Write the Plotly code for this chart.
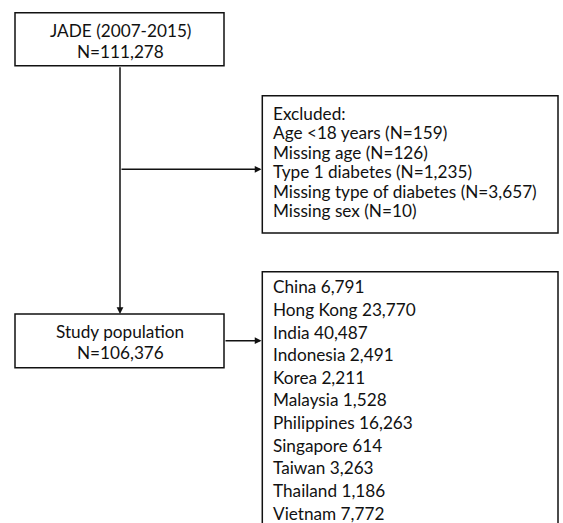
import plotly.graph_objects as go

# ---- data ----
top_lines = ["JADE (2007-2015)", "N=111,278"]
study_lines = ["Study population", "N=106,376"]
excluded_header = "Excluded:"
excluded_labels = ["Age <18 years", "Missing age", "Type 1 diabetes",
                   "Missing type of diabetes", "Missing sex"]
excluded_counts = ["159", "126", "1,235", "3,657", "10"]
countries = ["China", "Hong Kong", "India", "Indonesia", "Korea", "Malaysia",
             "Philippines", "Singapore", "Taiwan", "Thailand", "Vietnam"]
country_counts = ["6,791", "23,770", "40,487", "2,491", "2,211", "1,528",
                  "16,263", "614", "3,263", "1,186", "7,772"]

W, H = 563, 523
FONT = "Lato"
FS = 17.2
TXT = "#111111"
LINE = "#111111"

fig = go.Figure()
shapes = []
ann = []

def box(x0, y0, x1, y1):
    shapes.append(dict(type="rect", xref="x", yref="y", x0=x0, y0=y0, x1=x1, y1=y1,
                       line=dict(color=LINE, width=1.5), fillcolor="white", layer="below"))

def text(x, y, s, anchor="left"):
    ann.append(dict(x=x, y=y, xref="x", yref="y", text=s, showarrow=False,
                    xanchor=anchor, yanchor="middle",
                    font=dict(family=FONT, size=FS, color=TXT)))

def arrow(x0, y0, x1, y1):
    ann.append(dict(x=x1, y=y1, ax=x0, ay=y0, xref="x", yref="y", axref="x", ayref="y",
                    text="", showarrow=True, arrowhead=2, arrowsize=0.9, arrowwidth=1.5,
                    arrowcolor=LINE, standoff=0, startstandoff=0))

# boxes
box(15, 12.7, 224, 65.7)
box(262.3, 95.7, 558, 233)
box(15, 314, 224, 367.7)
box(262.3, 271.7, 558, 540)

# connectors
arrow(120, 65.7, 120, 314)
arrow(120, 169.3, 261.5, 169.3)
arrow(224, 340.7, 261.5, 340.7)

# texts
for i, s in enumerate(top_lines):
    text(120, 30.5 + i * 20.5, s, "center")
for i, s in enumerate(study_lines):
    text(120, 331 + i * 21, s, "center")

ex_rows = [excluded_header] + [f"{l} (N={c})" for l, c in zip(excluded_labels, excluded_counts)]
for i, s in enumerate(ex_rows):
    text(270.5, 113.3 + i * 19.5, s)

for i, (c, n) in enumerate(zip(countries, country_counts)):
    text(270.5, 286.7 + i * 22.65, f"{c} {n}")

fig.update_layout(
    width=W, height=H, margin=dict(l=0, r=0, t=0, b=0),
    paper_bgcolor="white", plot_bgcolor="white",
    xaxis=dict(range=[0, W], visible=False, fixedrange=True),
    yaxis=dict(range=[H, 0], visible=False, fixedrange=True),
    shapes=shapes, annotations=ann, showlegend=False,
)
fig.write_html(
    "out.html",
    config={"displayModeBar": False, "staticPlot": True},
    post_script="document.body.style.margin='0';document.body.style.overflow='hidden';",
)
